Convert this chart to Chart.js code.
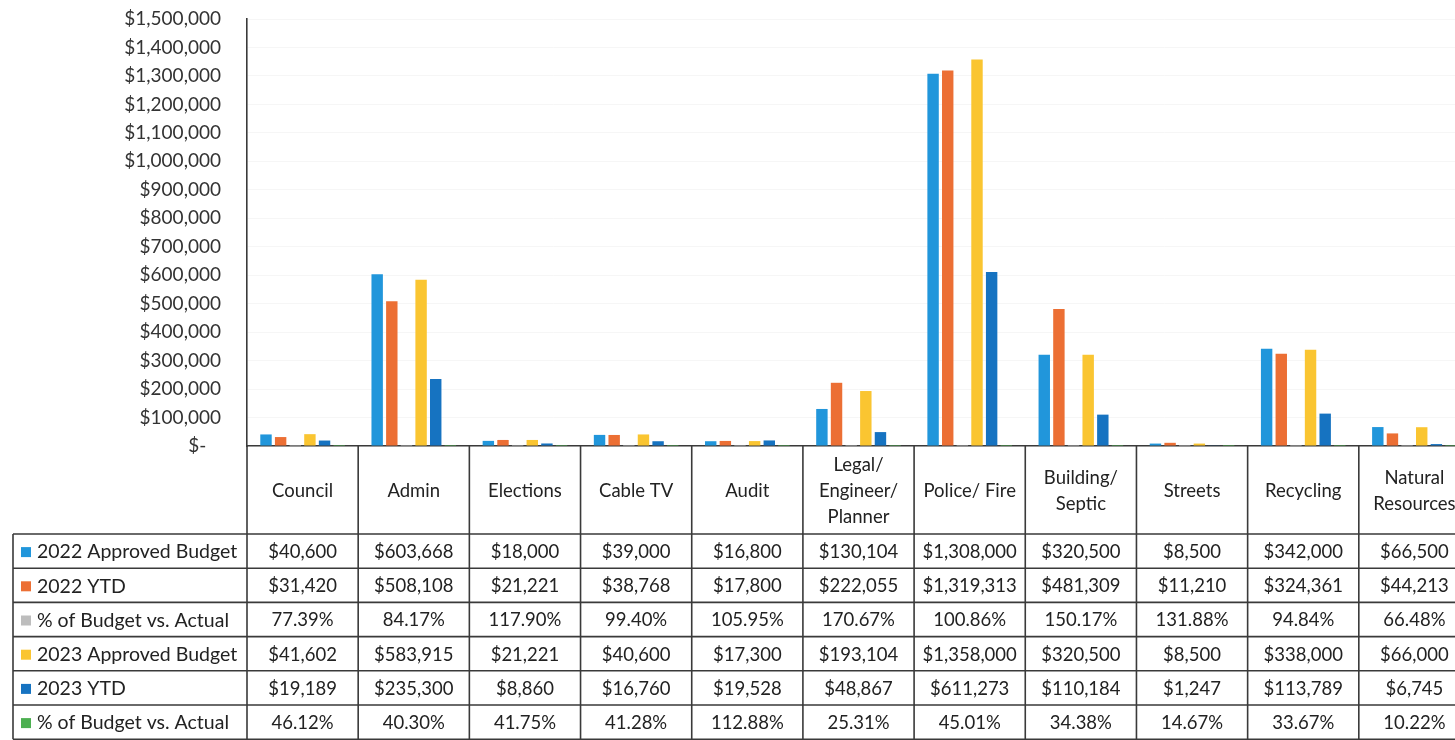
<!DOCTYPE html>
<html>
<head>
<meta charset="utf-8">
<script src="https://cdn.jsdelivr.net/npm/chart.js@4.4.0/dist/chart.umd.min.js"></script>
<style>
  html, body { margin: 0; padding: 0; background: #fff; overflow: hidden; }
  #wrap { width: 1475px; height: 740px; position: relative; }
</style>
</head>
<body>
<div id="wrap"><canvas id="budgetChart"></canvas></div>
<script>
// categories (multi-line header labels)
const categories = [
  ['Council'], ['Admin'], ['Elections'], ['Cable TV'], ['Audit'],
  ['Legal/', 'Engineer/', 'Planner'], ['Police/ Fire'], ['Building/', 'Septic'],
  ['Streets'], ['Recycling'], ['Natural', 'Resources']
];

const budget2022 = [40600, 603668, 18000, 39000, 16800, 130104, 1308000, 320500, 8500, 342000, 66500];
const ytd2022    = [31420, 508108, 21221, 38768, 17800, 222055, 1319313, 481309, 11210, 324361, 44213];
const pct2022    = [77.39, 84.17, 117.90, 99.40, 105.95, 170.67, 100.86, 150.17, 131.88, 94.84, 66.48];
const budget2023 = [41602, 583915, 21221, 40600, 17300, 193104, 1358000, 320500, 8500, 338000, 66000];
const ytd2023    = [19189, 235300, 8860, 16760, 19528, 48867, 611273, 110184, 1247, 113789, 6745];
const pct2023    = [46.12, 40.30, 41.75, 41.28, 112.88, 25.31, 45.01, 34.38, 14.67, 33.67, 10.22];

const seriesNames = ['2022 Approved Budget', '2022 YTD', '% of Budget vs. Actual',
                     '2023 Approved Budget', '2023 YTD', '% of Budget vs. Actual'];
const seriesColors = ['#2196DB', '#EC6F34', '#BDBDBD', '#FAC531', '#1673C1', '#4CAF50'];

const FONT = 'Lato, "Open Sans", sans-serif';

function money(v) {
  return '$' + v.toLocaleString('en-US');
}
function pct(v) {
  return v.toFixed(2) + '%';
}

const rows = [
  { values: budget2022, fmt: money },
  { values: ytd2022, fmt: money },
  { values: pct2022, fmt: pct },
  { values: budget2023, fmt: money },
  { values: ytd2023, fmt: money },
  { values: pct2023, fmt: pct }
];

// data table under the x axis
const dataTable = {
  id: 'dataTable',
  afterDraw(chart) {
    const ctx = chart.ctx;
    const xs = chart.scales.x;
    const area = chart.chartArea;
    const n = categories.length;
    const colW = xs.width / n;
    const top = xs.bottom;
    const rowH = 34.2;
    const legendLeft = 13;
    const bottom = top + rowH * rows.length;

    ctx.save();
    ctx.strokeStyle = '#3a3a3a';
    ctx.lineWidth = 1.6;
    ctx.beginPath();
    for (let i = 0; i <= n; i++) {
      const px = i < n ? xs.getPixelForValue(i) - colW / 2 : xs.getPixelForValue(n - 1) + colW / 2;
      ctx.moveTo(px, area.bottom);
      ctx.lineTo(px, bottom);
    }
    for (let r = 0; r <= rows.length; r++) {
      const y = top + r * rowH;
      ctx.moveTo(legendLeft, y);
      ctx.lineTo(area.right, y);
    }
    ctx.moveTo(legendLeft, top);
    ctx.lineTo(legendLeft, bottom);
    ctx.stroke();

    ctx.textBaseline = 'middle';
    rows.forEach((row, r) => {
      const cy = top + r * rowH + rowH / 2 + 1;
      ctx.fillStyle = seriesColors[r];
      ctx.fillRect(21, cy - 5, 10, 10);
      ctx.fillStyle = '#222';
      ctx.font = '19.5px ' + FONT;
      ctx.textAlign = 'left';
      ctx.fillText(seriesNames[r], 37, cy);
      ctx.font = '18.5px ' + FONT;
      ctx.textAlign = 'center';
      row.values.forEach((v, i) => {
        ctx.fillText(row.fmt(v), xs.getPixelForValue(i), cy);
      });
    });
    ctx.restore();
  }
};

const datasets = [budget2022, ytd2022, pct2022.map(v => v / 100), budget2023, ytd2023, pct2023.map(v => v / 100)]
  .map((d, i) => ({
    label: seriesNames[i],
    data: d,
    backgroundColor: seriesColors[i],
    categoryPercentage: 0.79,
    barPercentage: 0.78
  }));

const ctx = document.getElementById('budgetChart').getContext('2d');
new Chart(ctx, {
  type: 'bar',
  data: { labels: categories, datasets: datasets },
  options: {
    responsive: true,
    maintainAspectRatio: false,
    animation: false,
    layout: { padding: { top: 19, right: 5, bottom: 206, left: 0 } },
    plugins: {
      legend: { display: false },
      tooltip: { enabled: false }
    },
    scales: {
      x: {
        grid: { display: false },
        border: { display: true, color: '#3a3a3a', width: 1.6 },
        ticks: {
          color: '#222',
          font: { family: FONT, size: 18.5, lineHeight: 1.4 },
          padding: 11,
          maxRotation: 0,
          autoSkip: false,
          crossAlign: 'center'
        },
        afterFit(scale) { scale.height = 88; }
      },
      y: {
        min: 0,
        max: 1500000,
        grid: { color: 'rgba(0,0,0,0.035)', drawTicks: false },
        border: { display: true, color: '#3a3a3a', width: 1.6 },
        ticks: {
          stepSize: 100000,
          color: '#333',
          padding: 26,
          font: { family: FONT, size: 19 },
          callback: v => v === 0 ? '$-   ' : '$' + v.toLocaleString('en-US')
        },
        afterFit(scale) {
          scale.width = 247;
          scale.paddingTop = 10;
          scale.paddingBottom = 10;
        }
      }
    }
  },
  plugins: [dataTable]
});
</script>
</body>
</html>
